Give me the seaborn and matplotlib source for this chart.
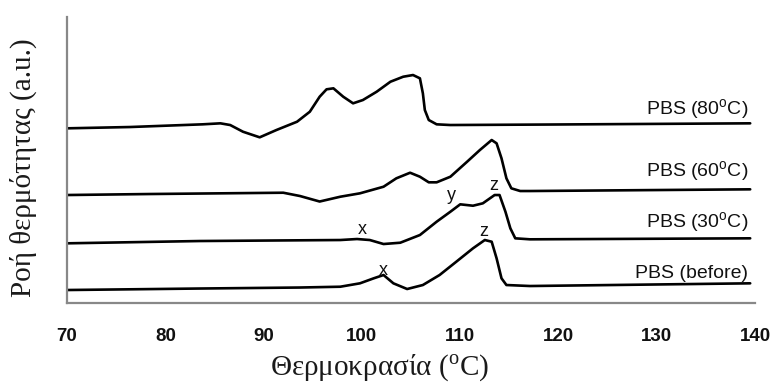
import matplotlib
matplotlib.use("Agg")
import matplotlib.pyplot as plt
import seaborn as sns
import pandas as pd

# DSC heating traces (heat flow in arbitrary units, curves stacked vertically)
t_80 = [70.0, 76.4, 83.8, 85.6, 86.6, 87.9, 89.6, 91.3, 93.4, 94.7, 95.7, 96.4, 97.1,
        98.1, 99.1, 100.1, 101.5, 102.9, 104.2, 105.2, 105.9, 106.2, 106.4, 106.8,
        107.6, 109.0, 119.1, 139.5]
q_80 = [174.7, 176.0, 178.7, 179.7, 178.0, 171.3, 165.7, 173.0, 181.3, 191.3, 206.3, 213.7, 214.7,
        206.3, 199.7, 203.0, 211.3, 221.3, 226.3, 228.0, 224.7, 209.7, 193.0, 183.0,
        178.7, 178.0, 178.5, 179.7]

t_60 = [70.0, 78.4, 92.0, 93.7, 95.7, 97.8, 99.8, 102.2, 103.5, 104.9, 105.9, 106.8,
        107.6, 109.0, 110.7, 112.0, 113.2, 113.7, 114.2, 114.7, 115.2, 116.1, 117.1, 139.5]
q_60 = [108.0, 109.0, 110.3, 107.0, 101.5, 106.3, 109.7, 116.3, 124.7, 130.3, 126.3, 120.7,
        120.7, 126.3, 141.3, 153.0, 163.0, 159.7, 144.7, 124.7, 114.7, 112.0, 112.0, 113.7]

t_30 = [70.0, 83.5, 97.8, 99.5, 100.8, 102.2, 103.9, 105.9, 107.6, 109.0, 110.0, 111.3,
        112.3, 113.5, 114.0, 114.6, 115.1, 115.6, 117.1, 139.5]
q_30 = [59.7, 62.0, 63.0, 64.0, 63.0, 59.0, 60.3, 68.0, 81.3, 91.3, 98.7, 97.3,
        99.7, 108.0, 108.0, 91.3, 74.7, 64.7, 63.7, 64.7]

t_before = [70.0, 83.5, 93.7, 97.8, 99.8, 101.2, 102.2, 103.2, 104.6, 106.2, 107.9, 109.6,
            111.3, 112.5, 113.2, 113.7, 114.2, 114.7, 117.1, 139.5]
q_before = [13.0, 14.5, 15.5, 16.3, 19.7, 24.7, 28.0, 19.7, 14.0, 18.0, 28.0, 41.3,
            54.7, 63.0, 61.3, 44.7, 24.7, 18.0, 17.0, 19.7]

series_names = ["PBS (80$^{\\mathsf{o}}$C)", "PBS (60$^{\\mathsf{o}}$C)",
                "PBS (30$^{\\mathsf{o}}$C)", "PBS (before)"]
label_heights = [193, 131, 80, 30]

# peak labels: (text, temperature, height)
peak_marks = [("x", 100.0, 74), ("y", 109.1, 108), ("z", 113.4, 118),
              ("x", 102.2, 33), ("z", 112.4, 72)]

x_ticks = [70, 80, 90, 100, 110, 120, 130, 140]

sns.set_theme(style="white")
plt.rcParams["font.family"] = ["Liberation Sans", "DejaVu Sans"]
plt.rcParams["mathtext.fontset"] = "custom"
plt.rcParams["mathtext.rm"] = "Liberation Serif"
plt.rcParams["mathtext.sf"] = "Liberation Sans"

frames = []
for name, t, q in zip(series_names,
                      [t_80, t_60, t_30, t_before],
                      [q_80, q_60, q_30, q_before]):
    frames.append(pd.DataFrame({"T": t, "q": q, "sample": name}))
df = pd.concat(frames, ignore_index=True)

fig = plt.figure(figsize=(7.74, 3.87), dpi=100)
ax = fig.add_axes([0.0866, 0.217, 0.889, 0.739])

sns.lineplot(data=df, x="T", y="q", units="sample", estimator=None, sort=False,
             color="black", linewidth=1.9, ax=ax, legend=False)
for line in ax.get_lines():
    line.set_solid_joinstyle("round")
    line.set_solid_capstyle("round")

ax.set_xlim(70, 140)
ax.set_ylim(0, 286)
ax.set_xticks(x_ticks)
ax.set_xticklabels([str(v) for v in x_ticks], fontweight="bold", fontsize=13.5,
                   color="#111111")
ax.set_yticks([236])
ax.set_yticklabels([])
ax.tick_params(axis="x", direction="out", length=5, width=1.2, color="#777777", pad=13)
ax.tick_params(axis="y", direction="inout", length=4, width=1.5, color="#444444")

for side in ["top", "right"]:
    ax.spines[side].set_visible(False)
for side in ["left", "bottom"]:
    ax.spines[side].set_color("#888888")
    ax.spines[side].set_linewidth(1.6)

for name, h in zip(series_names, label_heights):
    ax.text(139.3, h, name, ha="right", va="center", fontsize=14, color="#111111")

for s, t, h in peak_marks:
    ax.text(t, h, s, ha="center", va="center", fontsize=13, color="#111111")

ax.set_xlabel("Θερμοκρασία ($^{\\mathrm{o}}$C)", family=["Liberation Serif", "DejaVu Serif"],
              fontsize=21, color="#1a1a1a")
ax.set_ylabel("Ροή θερμότητας (a.u.)", family=["Liberation Serif", "DejaVu Serif"],
              fontsize=21, color="#1a1a1a")
ax.xaxis.set_label_coords(0.455, -0.228)
ax.yaxis.set_label_coords(-0.064, 0.474)
ax.xaxis.label.set_va("center")
ax.yaxis.label.set_va("center")

fig.savefig("out.png", dpi=100)
